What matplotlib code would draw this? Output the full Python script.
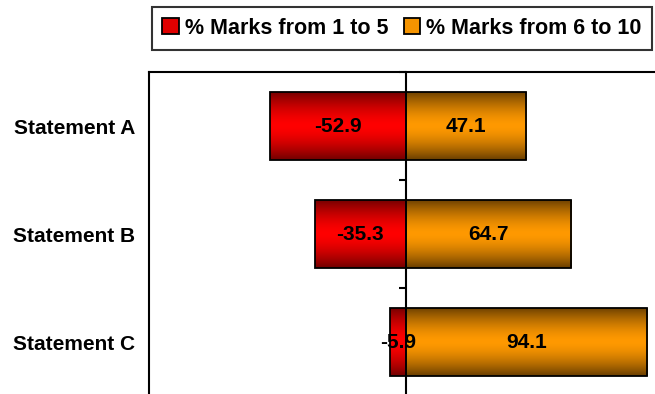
import numpy as np
import matplotlib.pyplot as plt
from matplotlib.patches import Patch

statements = ['Statement A', 'Statement B', 'Statement C']
low_marks = [-52.9, -35.3, -5.9]
high_marks = [47.1, 64.7, 94.1]
series_names = ['% Marks from 1 to 5', '% Marks from 6 to 10']

plt.rcParams['font.family'] = ['Liberation Sans', 'DejaVu Sans']
plt.rcParams['font.weight'] = 'bold'


def shade(base, dark):
    # vertical gradient: dark at the edges, base colour in the middle
    t = np.abs(np.linspace(-1, 1, 64)) ** 1.6
    base = np.array(base)
    dark = np.array(dark)
    rows = base[None, :] * (1 - t[:, None]) + dark[None, :] * t[:, None]
    return rows[:, None, :]


red_grad = shade([1.0, 0.0, 0.0], [0.45, 0.0, 0.0])
orange_grad = shade([1.0, 0.6, 0.0], [0.42, 0.25, 0.0])

fig = plt.figure(figsize=(6.55, 3.94), dpi=100)
ax = fig.add_axes([149 / 655, -2 / 394, 513 / 655, 324 / 394])

y = np.arange(len(statements))
bars_low = ax.barh(y, low_marks, height=0.63, color='none', edgecolor='black', linewidth=1.3, zorder=3)
bars_high = ax.barh(y, high_marks, height=0.63, color='none', edgecolor='black', linewidth=1.3, zorder=3)

for bars, grad in [(bars_low, red_grad), (bars_high, orange_grad)]:
    for p in bars:
        x0, x1 = sorted([p.get_x(), p.get_x() + p.get_width()])
        y0, y1 = p.get_y(), p.get_y() + p.get_height()
        im = ax.imshow(grad, extent=[x0, x1, y1, y0], aspect='auto', zorder=2,
                       interpolation='bilinear')
        im.set_clip_path(p)

for i in range(len(statements)):
    ax.text(low_marks[i] / 2, y[i], f'{low_marks[i]:.1f}', ha='center', va='center',
            fontsize=15, fontweight='bold', zorder=5)
    ax.text(high_marks[i] / 2, y[i], f'{high_marks[i]:.1f}', ha='center', va='center',
            fontsize=15, fontweight='bold', zorder=5)

ax.set_xlim(-100, 100)
ax.set_ylim(2.5, -0.5)
ax.set_xticks([])
ax.set_yticks(y)
ax.set_yticklabels(statements, fontsize=15, fontweight='bold')
ax.tick_params(axis='y', length=0, pad=10)
for s in ax.spines.values():
    s.set_linewidth(1.5)

# centre axis with small ticks at the category boundaries
sec = ax.secondary_yaxis(0.5)
sec.set_yticks(np.arange(len(statements) + 1) - 0.5)
sec.set_yticklabels([])
sec.tick_params(which='both', length=5, width=1.5, direction='in',
                labelleft=False, labelright=False)
for s in sec.spines.values():
    s.set_linewidth(1.5)

handles = [Patch(facecolor='#e00000', edgecolor='black', linewidth=1.3),
           Patch(facecolor='#f59400', edgecolor='black', linewidth=1.3)]
leg = fig.legend(handles, series_names, loc='upper center', ncol=2,
                 bbox_to_anchor=((152 + 652) / 2 / 655, 1 - 7 / 394),
                 prop={'size': 15.5, 'weight': 'bold'}, fancybox=False,
                 handlelength=0.75, handleheight=0.75, handletextpad=0.3,
                 columnspacing=0.7, borderpad=0.5, borderaxespad=0)
leg.get_frame().set_edgecolor('black')
leg.get_frame().set_linewidth(1.5)

fig.savefig('out.png', dpi=100)
